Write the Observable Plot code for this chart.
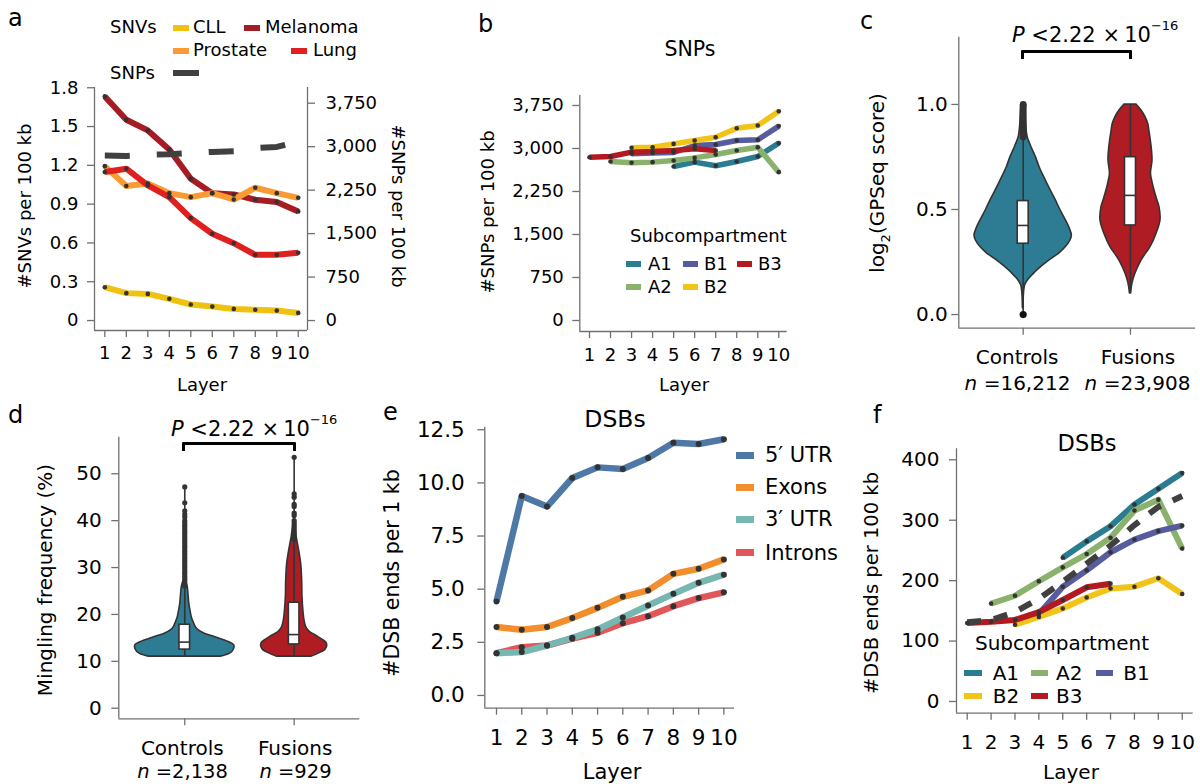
<!DOCTYPE html>
<html><head><meta charset="utf-8">
<script src="https://cdn.jsdelivr.net/npm/d3@7"></script>
<script src="https://cdn.jsdelivr.net/npm/@observablehq/plot@0.6"></script>
<style>
body{margin:0;background:#fff;}
#fig{position:relative;width:1200px;height:784px;overflow:hidden;font-family:"DejaVu Sans",sans-serif;color:#000;background:#fff;}
.t{position:absolute;white-space:nowrap;line-height:1;font-size:18px;}
.sw{position:absolute;}
</style></head><body><div id="fig"></div>
<script>
// ---------------- DATA ----------------
const layers = [1,2,3,4,5,6,7,8,9,10];

// Panel a: SNVs per 100 kb (left axis) and SNPs per 100 kb (right axis)
const snvCLL      = [0.258,0.212,0.206,0.168,0.124,0.108,0.090,0.083,0.077,0.059];
const snvMelanoma = [1.733,1.553,1.470,1.323,1.096,0.985,0.975,0.934,0.916,0.844];
const snvProstate = [1.194,1.040,1.060,0.985,0.954,0.985,0.936,1.027,0.985,0.949];
const snvLung     = [1.148,1.174,1.045,0.954,0.792,0.671,0.598,0.508,0.508,0.524];
const snpAll      = [2847,2840,2860,2870,2890,2910,2920,2975,2995,3090];
const snvTicks = [0,0.3,0.6,0.9,1.2,1.5,1.8];
const snpTicks = [0,750,1500,2250,3000,3750];

// Panel b: SNPs per 100 kb by subcompartment
const snpA1 = [null,null,null,null,2686,2762,2698,2773,2860,3093];
const snpA2 = [null,2773,2750,2762,2790,2836,2894,2965,3022,2587];
const snpB1 = [null,null,2910,2920,2930,3052,3070,3139,3151,3390];
const snpB2 = [null,null,3012,3022,3080,3139,3197,3354,3400,3650];
const snpB3 = [2848,2860,2936,2946,2965,2994,2965,null,null,null];

// Panel c: log2(GPSeq score) violins
const cGroups = ["Controls","Fusions"];
const cN = ["16,212","23,908"];
const cControlsY = [0.03,0.10,0.14,0.17,0.20,0.23,0.257,0.29,0.321,0.35,0.376,0.41,0.448,0.50,0.543,0.60,0.654,0.70,0.749,0.80,0.844,0.90,0.95,1.0];
const cControlsD = [0.3,0.8,2,6,12,19,26,36,42.7,47,48.7,46.5,42.7,37,32.7,26.5,21,16.5,12.7,8,4.5,3,2.5,2];
const cFusionsY  = [0.10,0.148,0.195,0.257,0.321,0.384,0.448,0.511,0.55,0.59,0.63,0.67,0.733,0.78,0.829,0.87,0.908,0.94,0.971,1.0];
const cFusionsD  = [0.5,2,5,11,20,26,30,29,26.5,24,22,20.5,22,21.5,20.3,19,17.7,15,11,6];
const cBox = {q1:[0.337,0.424], median:[0.424,0.567], q3:[0.540,0.749], lo:[0.0,0.10], hi:[1.0,1.0]};
const cControlsOutliers = [0.845,0.855,0.865,0.875,0.885,0.895,0.905,0.915,0.925,0.935,0.945,0.955,0.965,0.975,0.985,0.995,1.0];
const cLowOutlier = [0];

// Panel d: mingling frequency (%) violins
const dGroups = ["Controls","Fusions"];
const dN = ["2,138","929"];
const dControlsY = [11.0,11.5,12.0,12.7,13.4,14.0,14.8,15.4,15.9,16.6,17.3,18.5,19.4,21.0,22.3,24.0,25.8,27.0];
const dControlsD = [36,44,47.5,49.5,49.5,45,35,27,20,14,11,8.5,7,5.5,4.5,3.8,3,1.5];
const dFusionsY  = [11.0,11.7,12.4,13.2,13.9,14.5,15.5,16.4,17.3,18.5,20.1,23.7,27.2,30.8,33.6,36.5,38.6,39.0];
const dFusionsD  = [17.5,25,31,33,32.5,29,21.7,15,12,10.5,9.5,8.3,8,7,5,2.5,1,0.3];
const dBox = {q1:[12.5,13.6], median:[14.1,15.7], q3:[17.8,22.5], lo:[11,11], hi:[47.2,53.5]};
const dControlsOutliers = [26,26.5,27,27.5,28,28.5,29,29.5,30,30.5,31,31.5,32,32.5,33,33.5,34,34.5,35,35.5,36,36.5,37,37.5,38,38.5,39,39.5,40,40.8,41.4,42.1,43.8,47.2];
const dFusionsOutliers  = [36,36.5,37,37.5,38,38.5,39,39.5,40,41.1,41.6,43,43.5,45,45.7,53.5];

// Panel e: DSB ends per 1 kb by feature
const dsbUTR5   = [4.42,9.38,8.89,10.23,10.73,10.65,11.17,11.89,11.83,12.05];
const dsbExons  = [3.22,3.09,3.22,3.64,4.12,4.64,4.94,5.72,5.96,6.40];
const dsbUTR3   = [1.99,2.04,2.35,2.71,3.11,3.67,4.23,4.78,5.30,5.68];
const dsbIntrons= [1.99,2.27,2.35,2.67,2.95,3.40,3.73,4.20,4.58,4.85];

// Panel f: DSB ends per 100 kb by subcompartment
const dsbAll = [131,135,148,170,198,228,258,292,322,340];
const dsbA1 = [null,null,null,null,238,265,290,326,352,378];
const dsbA2 = [null,162,175,199,222,244,271,316,334,253];
const dsbB1 = [null,null,null,145,190,217,247,268,282,291];
const dsbB2 = [null,null,127,140,154,172,187,190,204,178];
const dsbB3 = [130,132,135,148,168,189,195,null,null,null];

// ---------------- STYLE ----------------
const colCLL="#efc210", colMel="#a51c24", colPro="#f99a32", colLung="#e0201e", colSNP="#404040";
const colA1="#2a7d91", colA2="#8ab26c", colB1="#575c9f", colB2="#f2c318", colB3="#b3191f";
const colU5="#4e79a7", colEx="#f28e2b", colU3="#76b7b2", colIn="#e15759";
const colControls="#2e7b94", colFusions="#b01c23", colOutline="#333333";
const axisColor="#707070", dotColor="#333333";
const fig = document.getElementById("fig");
const styleOf = (fs)=>({fontFamily:"DejaVu Sans, sans-serif", fontSize:fs+"px", color:"#000", background:"transparent", overflow:"visible"});

function rows(arr){ return layers.map((L,i)=>({layer:L, value:arr[i]})).filter(d=>d.value!=null); }
function place(el,left,top){ el.style.position="absolute"; el.style.left=left+"px"; el.style.top=top+"px"; fig.appendChild(el); }
function txt(html,x,y,o={}){
  const d=document.createElement("div"); d.className="t"; d.innerHTML=html;
  d.style.left=x+"px"; d.style.top=y+"px";
  const a=o.anchor||"middle"; const tx=a==="start"?"0":a==="end"?"-100%":"-50%";
  d.style.transform=`translate(${tx},-50%)`+(o.rotate?` rotate(${o.rotate}deg)`:"");
  if(o.size) d.style.fontSize=o.size+"px";
  fig.appendChild(d);
}
function sw(x1,x2,yc,color,th=6){
  const d=document.createElement("div"); d.className="sw";
  d.style.left=x1+"px"; d.style.width=(x2-x1)+"px"; d.style.top=(yc-th/2)+"px"; d.style.height=th+"px";
  d.style.background=color; fig.appendChild(d);
}
function spines(xd,yd,right=false){
  const m=[Plot.ruleX([xd[0]],{stroke:axisColor,strokeWidth:1.3}), Plot.ruleY([yd[0]],{stroke:axisColor,strokeWidth:1.3})];
  if(right) m.push(Plot.ruleX([xd[1]],{stroke:axisColor,strokeWidth:1.3}));
  return m;
}
function seriesMarks(list, width){
  return list.map(([arr,color])=>Plot.line(rows(arr),{x:"layer",y:"value",stroke:color,strokeWidth:width,strokeLinecap:"butt",strokeLinejoin:"round"}));
}
function dotMarks(list, r){ return list.map(([arr])=>Plot.dot(rows(arr),{x:"layer",y:"value",r,fill:dotColor,stroke:"none"})); }
const layerAxis = (pad)=>Plot.axisX({ticks:layers, tickSize:7, tickPadding:pad, label:null, stroke:axisColor, strokeWidth:1.3, tickFormat:d=>String(d)});

// ---------------- PANEL a ----------------
{
  const xd=[0.52,10.43], yd=[-0.077,1.802];
  const snvToSnp = 3750/1.6806;
  const list=[[snvCLL,colCLL],[snvMelanoma,colMel],[snvProstate,colPro],[snvLung,colLung]];
  const p=Plot.plot({width:420,height:400,marginLeft:94,marginRight:113,marginTop:87,marginBottom:70,
    x:{domain:xd}, y:{domain:yd}, style:styleOf(18),
    marks:[
      ...spines(xd,yd,true),
      Plot.axisY({ticks:snvTicks,tickSize:7,tickPadding:9,label:null,stroke:axisColor,strokeWidth:1.3,tickFormat:d=>d===0?"0":d.toFixed(1)}),
      Plot.axisY({anchor:"right",ticks:snpTicks.map(t=>t/snvToSnp),tickSize:7,tickPadding:11,label:null,stroke:axisColor,strokeWidth:1.3,tickFormat:d=>d3.format(",")(Math.round(d*snvToSnp))}),
      layerAxis(9),
      ...seriesMarks(list,6),
      Plot.line(rows(snpAll.map(v=>v/snvToSnp)),{x:"layer",y:"value",stroke:colSNP,strokeWidth:6,strokeDasharray:"25,27",strokeLinecap:"butt"}),
      ...dotMarks(list,2.3)
    ]});
  place(p,0,0);
  txt("a",8,18,{anchor:"start",size:24});
  txt("SNVs",110,27,{anchor:"start"});
  sw(173,189,27.5,colCLL); txt("CLL",193,27,{anchor:"start"});
  sw(244,260,27.5,colMel); txt("Melanoma",265,27,{anchor:"start"});
  sw(173,189,50.5,colPro); txt("Prostate",193,50,{anchor:"start"});
  sw(291,307,50.5,colLung); txt("Lung",313,50,{anchor:"start"});
  txt("SNPs",110,73,{anchor:"start"});
  sw(173,199,73,colSNP);
  txt("Layer",202,385);
  txt("#SNVs per 100 kb",25,206,{rotate:-90});
  txt("#SNPs per 100 kb",398,206,{rotate:90});
}

// ---------------- PANEL b ----------------
{
  const xd=[0.539,10.40], yd=[-192,3924];
  const list=[[snpA1,colA1],[snpA2,colA2],[snpB1,colB1],[snpB2,colB2],[snpB3,colB3]];
  const p=Plot.plot({width:400,height:400,marginLeft:179.3,marginRight:13.3,marginTop:95,marginBottom:69,
    x:{domain:xd}, y:{domain:yd}, style:styleOf(18),
    marks:[
      ...spines(xd,yd),
      Plot.axisY({ticks:snpTicks,tickSize:7,tickPadding:9,label:null,stroke:axisColor,strokeWidth:1.3,tickFormat:d3.format(",")}),
      layerAxis(10),
      ...seriesMarks(list,5.5),
      ...dotMarks(list,2.3)
    ]});
  place(p,400,0);
  txt("b",478,24,{anchor:"start",size:24});
  txt("SNPs",690,49,{size:20.5});
  txt("Subcompartment",630,236,{anchor:"start"});
  sw(626,641,264,colA1); txt("A1",648,264,{anchor:"start"});
  sw(683,698,264,colB1); txt("B1",704,264,{anchor:"start"});
  sw(737,752,264,colB3); txt("B3",758,264,{anchor:"start"});
  sw(626,641,287,colA2); txt("A2",648,287,{anchor:"start"});
  sw(683,698,287,colB2); txt("B2",704,287,{anchor:"start"});
  txt("Layer",684,385);
  txt("#SNPs per 100 kb",488,212,{rotate:-90});
}

// ---------------- violin helpers ----------------
function violinMarks(ys,ds,center,scale,fill){
  const prof=ys.map((y,i)=>({y,d:ds[i]}));
  return Plot.areaX(prof,{y:"y",x1:p=>center-p.d*scale,x2:p=>center+p.d*scale,fill,stroke:colOutline,strokeWidth:1.6,curve:"catmull-rom"});
}
function whiskerMarks(box){
  return Plot.ruleX([0,1],{x:i=>i,y1:i=>box.lo[i],y2:i=>box.hi[i],stroke:colOutline,strokeWidth:1.6});
}
function boxRects(box,hw){
  const idx=[0,1];
  return [
    Plot.rect(idx,{x1:i=>i-hw,x2:i=>i+hw,y1:i=>box.q1[i],y2:i=>box.q3[i],fill:"white",stroke:colOutline,strokeWidth:1.6}),
    Plot.ruleY(idx,{y:i=>box.median[i],x1:i=>i-hw,x2:i=>i+hw,stroke:colOutline,strokeWidth:1.6})
  ];
}
// group labels below the category ticks (each label has its own horizontal nudge, as in the source figure)
function groupLabels(groups,pad,nudges){
  return groups.map((g,i)=>Plot.axisX({ticks:[i],tickSize:0,tickPadding:pad,label:null,dx:nudges[i],tickFormat:()=>g}));
}
const pText = "<i>P</i> &lt;2.22 ×&thinsp;10<sup style='font-size:13px;position:relative;top:-4px;'>−16</sup>";

// ---------------- PANEL c ----------------
{
  const xd=[-0.6,1.606], yd=[-0.065,1.32];
  const scale=1/107.3;
  const p=Plot.plot({width:400,height:400,marginLeft:158.3,marginRight:5,marginTop:36.7,marginBottom:72.3,
    x:{domain:xd}, y:{domain:yd}, style:styleOf(20),
    marks:[
      ...spines(xd,yd),
      Plot.axisY({ticks:[0,0.5,1.0],tickSize:7,tickPadding:4,label:null,stroke:axisColor,strokeWidth:1.3,tickFormat:d=>d.toFixed(1)}),
      Plot.axisX({ticks:[0,1],tickSize:7,label:null,stroke:axisColor,strokeWidth:1.3,tickFormat:()=>""}),
      ...groupLabels(cGroups,22,[-6,7.5]),
      violinMarks(cControlsY,cControlsD,0,scale,colControls),
      violinMarks(cFusionsY,cFusionsD,1,scale,colFusions),
      whiskerMarks(cBox),
      Plot.dot(cControlsOutliers,{x:()=>0,y:d=>d,r:3.4,fill:colOutline,stroke:"none"}),
      Plot.dot(cLowOutlier,{x:()=>0,y:d=>d,r:3.6,fill:"#111",stroke:"none"}),
      ...boxRects(cBox,5.5*scale)
    ]});
  place(p,800,0);
  txt("c",860,21,{anchor:"start",size:24});
  txt(pText,1012,34,{anchor:"start",size:21});
  const br=document.createElement("div");
  Object.assign(br.style,{position:"absolute",left:"1021px",top:"50px",width:"111px",height:"8.5px",boxSizing:"border-box",border:"3.2px solid #000",borderBottom:"none",borderRadius:"1.5px 1.5px 0 0"});
  fig.appendChild(br);
  txt("<i>n</i> ="+cN[0],1017.5,383,{size:20});
  txt("<i>n</i> ="+cN[1],1137.5,383,{size:20});
  txt("log<sub style='font-size:13px;position:relative;top:1px'>2</sub>(GPSeq score)",879,183,{rotate:-90,size:20});
}

// ---------------- PANEL d ----------------
{
  const xd=[-0.603,1.6], yd=[-2.26,57.8];
  const scale=1/109.4;
  const p=Plot.plot({width:400,height:394,marginLeft:118.3,marginRight:40.7,marginTop:46.7,marginBottom:65.7,
    x:{domain:xd}, y:{domain:yd}, style:styleOf(20),
    marks:[
      ...spines(xd,yd),
      Plot.axisY({ticks:[0,10,20,30,40,50],tickSize:7,tickPadding:10,label:null,stroke:axisColor,strokeWidth:1.3}),
      Plot.axisX({ticks:[0,1],tickSize:7,label:null,stroke:axisColor,strokeWidth:1.3,tickFormat:()=>""}),
      ...groupLabels(dGroups,21.5,[-2.5,1]),
      violinMarks(dControlsY,dControlsD,0,scale,colControls),
      violinMarks(dFusionsY,dFusionsD,1,scale,colFusions),
      whiskerMarks(dBox),
      Plot.dot(dControlsOutliers,{x:()=>0,y:d=>d,r:2.6,fill:colOutline,stroke:"none"}),
      Plot.dot(dFusionsOutliers,{x:()=>1,y:d=>d,r:2.6,fill:colOutline,stroke:"none"}),
      ...boxRects(dBox,5.3*scale)
    ]});
  place(p,0,390);
  txt("d",8,415,{anchor:"start",size:24});
  txt(pText,171,428,{anchor:"start",size:21});
  const br=document.createElement("div");
  Object.assign(br.style,{position:"absolute",left:"182px",top:"441.7px",width:"114px",height:"9.5px",boxSizing:"border-box",border:"3.2px solid #000",borderBottom:"none",borderRadius:"1.5px 1.5px 0 0"});
  fig.appendChild(br);
  txt("<i>n</i> ="+dN[0],182.5,771.5,{size:19.5});
  txt("<i>n</i> ="+dN[1],295.5,771.5,{size:19.5});
  txt("Mingling frequency (%)",45,580,{rotate:-90,size:20});
}

// ---------------- PANEL e ----------------
{
  const xd=[0.537,10.42], yd=[-0.6,12.62];
  const list=[[dsbUTR5,colU5],[dsbExons,colEx],[dsbIntrons,colIn],[dsbUTR3,colU3]];
  const p=Plot.plot({width:400,height:394,marginLeft:84.3,marginRight:66,marginTop:36.7,marginBottom:76.3,
    x:{domain:xd}, y:{domain:yd}, style:styleOf(21.5),
    marks:[
      ...spines(xd,yd),
      Plot.axisY({ticks:[0,2.5,5,7.5,10,12.5],tickSize:7,tickPadding:13,label:null,stroke:axisColor,strokeWidth:1.3,tickFormat:d=>d.toFixed(1)}),
      layerAxis(15),
      ...seriesMarks(list,6.5),
      ...dotMarks(list,3)
    ]});
  place(p,400,390);
  txt("e",383,412,{anchor:"start",size:24});
  txt("DSBs",615,420,{size:23.5});
  sw(736,754,455,colU5,7); txt("5′ UTR",765,455,{anchor:"start",size:21});
  sw(736,754,487.3,colEx,7); txt("Exons",765,487,{anchor:"start",size:21});
  sw(736,754,519.3,colU3,7); txt("3′ UTR",765,519,{anchor:"start",size:21});
  sw(736,754,552.7,colIn,7); txt("Introns",765,552.5,{anchor:"start",size:21});
  txt("Layer",612,771.5,{size:21});
  txt("#DSB ends per 1 kb",392,573,{rotate:-90,size:20.5});
}

// ---------------- PANEL f ----------------
{
  const xd=[0.552,10.46], yd=[-19.4,418.2];
  const list=[[dsbA1,colA1],[dsbA2,colA2],[dsbB1,colB1],[dsbB2,colB2],[dsbB3,colB3]];
  const p=Plot.plot({width:400,height:394,marginLeft:156,marginRight:7.3,marginTop:58.3,marginBottom:71.3,
    x:{domain:xd}, y:{domain:yd}, style:styleOf(20),
    marks:[
      ...spines(xd,yd),
      Plot.axisY({ticks:[0,100,200,300,400],tickSize:7,tickPadding:10,label:null,stroke:axisColor,strokeWidth:1.3}),
      layerAxis(15),
      ...seriesMarks(list,6),
      Plot.line(rows(dsbAll),{x:"layer",y:"value",stroke:colSNP,strokeWidth:6,strokeDasharray:"14,13",strokeLinecap:"butt"}),
      ...dotMarks(list,2.3)
    ]});
  place(p,800,390);
  txt("f",873,415,{anchor:"start",size:24});
  txt("DSBs",1087,442.5,{size:22.5});
  txt("Subcompartment",975,643.3,{anchor:"start",size:20});
  sw(964.3,981.7,672.7,colA1); txt("A1",992.7,672.7,{anchor:"start",size:20});
  sw(1030.7,1047.7,672.7,colA2); txt("A2",1056,672.7,{anchor:"start",size:20});
  sw(1096,1113.3,672.7,colB1); txt("B1",1123.3,672.7,{anchor:"start",size:20});
  sw(964.3,981.7,696,colB2); txt("B2",992.7,696,{anchor:"start",size:20});
  sw(1030.7,1047.7,696,colB3); txt("B3",1056,696,{anchor:"start",size:20});
  txt("Layer",1071,771.5,{size:20});
  txt("#DSB ends per 100 kb",872,582.5,{rotate:-90,size:19.5});
}
</script></body></html>
